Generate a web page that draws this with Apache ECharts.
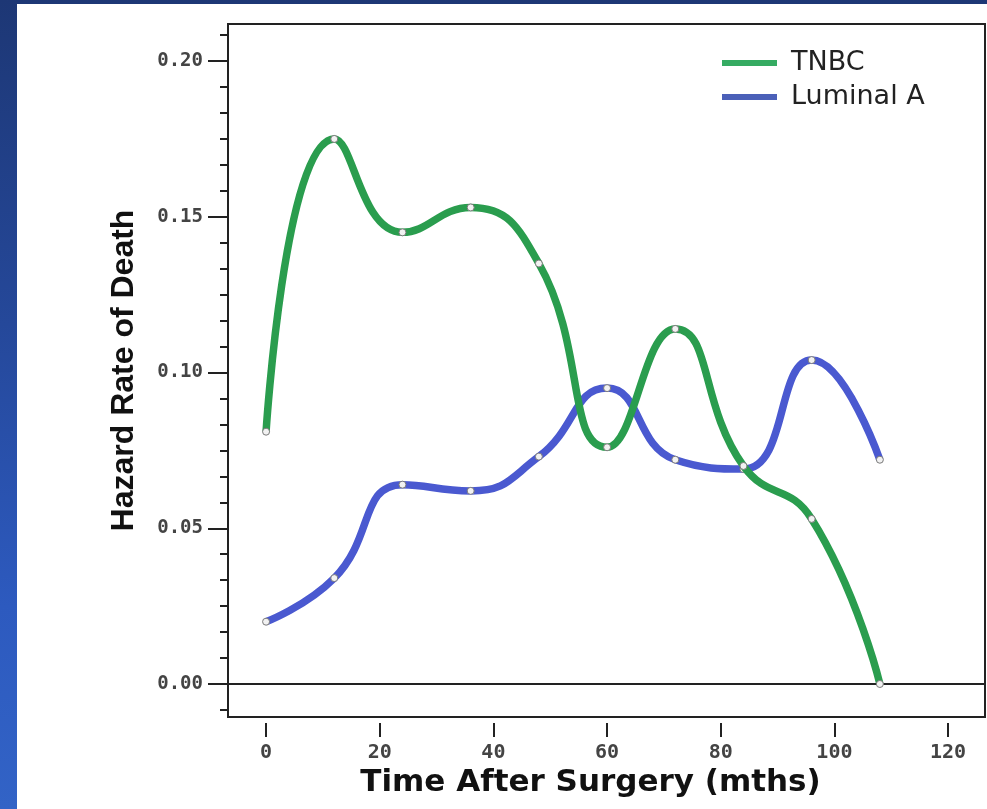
<!DOCTYPE html>
<html>
<head>
<meta charset="utf-8">
<script src="https://cdn.jsdelivr.net/npm/echarts@6/dist/echarts.min.js"></script>
<style>
  html, body { margin: 0; padding: 0; width: 987px; height: 809px; overflow: hidden;
    background: linear-gradient(to bottom, #1d3775 0%, #25489a 40%, #2d5abf 75%, #3263c6 100%); }
  #chart { position: absolute; left: 17px; top: 4px; width: 970px; height: 805px; background: #fff; }
</style>
</head>
<body>
<div id="chart"></div>
<script>
// ---- data ----
const months = [0, 12, 24, 36, 48, 60, 72, 84, 96, 108];
const tnbc = [0.081, 0.175, 0.145, 0.153, 0.135, 0.076, 0.114, 0.070, 0.053, 0.000];
const luminalA = [0.020, 0.034, 0.064, 0.062, 0.073, 0.095, 0.072, 0.069, 0.104, 0.072];
const seriesNames = ['TNBC', 'Luminal A'];
const xTickValues = [0, 20, 40, 60, 80, 100, 120];
const yTickValues = [0, 0.05, 0.10, 0.15, 0.20];
const xTitle = 'Time After Surgery (mths)';
const yTitle = 'Hazard Rate of Death';

// ---- axis config helpers ----
const yMin = -0.0106, yMax = 0.2119;
const minorStep = 0.05 / 6;
const yMinorTicks = [];
for (let k = -1; k <= 25; k++) { yMinorTicks.push(+(k * minorStep).toFixed(6)); }

const green = '#2a9d4e', blue = '#4a59d0';
function pairs(xs, ys) { return xs.map((x, i) => [x, ys[i]]); }

const chart = echarts.init(document.getElementById('chart'), null, { renderer: 'canvas' });
chart.setOption({
  backgroundColor: '#ffffff',
  animation: false,
  grid: { left: 211, top: 20, right: 2, bottom: 92, show: true, borderColor: '#222', borderWidth: 2, backgroundColor: 'transparent' },
  legend: {
    orient: 'vertical', left: 700, top: 39,
    icon: 'rect', itemWidth: 55, itemHeight: 6, itemGap: 4,
    textStyle: { fontFamily: 'DejaVu Sans', fontSize: 27, color: '#222', lineHeight: 30, padding: [0, 0, 0, 9] },
    data: [
      { name: seriesNames[0], itemStyle: { color: '#35ab62', borderWidth: 0 } },
      { name: seriesNames[1], itemStyle: { color: '#4b60b8', borderWidth: 0 } }
    ]
  },
  xAxis: {
    type: 'value', min: -6.7, max: 126.5, offset: 6, position: 'bottom',
    axisLine: { show: false, onZero: false },
    axisTick: { show: true, length: 14, inside: false, customValues: xTickValues, lineStyle: { color: '#222', width: 2 } },
    axisLabel: { customValues: xTickValues, margin: 20, fontFamily: 'DejaVu Sans Mono', fontWeight: 'bold', fontSize: 20, color: '#444' },
    splitLine: { show: false },
    name: xTitle, nameLocation: 'middle', nameGap: 43,
    nameTextStyle: { fontFamily: 'DejaVu Sans', fontWeight: 'bold', fontSize: 31, color: '#111', padding: [0, 32, 0, 0] }
  },
  yAxis: [
    {
      type: 'value', min: yMin, max: yMax, position: 'left',
      axisLine: { show: true, onZero: false, lineStyle: { color: '#222', width: 2 } },
      axisTick: { show: true, length: 20, inside: false, customValues: yTickValues, lineStyle: { color: '#222', width: 2 } },
      axisLabel: { customValues: yTickValues, margin: 25, formatter: v => v.toFixed(2),
        fontFamily: 'DejaVu Sans Mono', fontWeight: 'bold', fontSize: 19, color: '#444' },
      splitLine: { show: false },
      name: yTitle, nameLocation: 'middle', nameGap: 88, nameRotate: 90,
      nameTextStyle: { fontFamily: 'Liberation Sans', fontWeight: 'bold', fontSize: 32, color: '#111' }
    },
    {
      type: 'value', min: yMin, max: yMax, position: 'left', offset: 0,
      axisLine: { show: false, onZero: false },
      axisTick: { show: true, length: 8, inside: false, customValues: yMinorTicks, lineStyle: { color: '#222', width: 2 } },
      axisLabel: { show: false },
      splitLine: { show: false }
    }
  ],
  series: [
    {
      name: seriesNames[0], type: 'line', yAxisIndex: 0, smooth: 0.5,
      data: pairs(months, tnbc),
      symbol: 'circle', symbolSize: 7,
      lineStyle: { color: green, width: 7.5 },
      itemStyle: { color: '#f2f2f2', borderColor: '#7a7a7a', borderWidth: 1 },
      z: 3,
      markLine: {
        silent: true, symbol: ['none', 'none'], label: { show: false },
        lineStyle: { color: '#222', width: 2, type: 'solid' },
        data: [{ yAxis: 0 }], z: 1
      }
    },
    {
      name: seriesNames[1], type: 'line', yAxisIndex: 0, smooth: 0.5,
      data: pairs(months, luminalA),
      symbol: 'circle', symbolSize: 7,
      lineStyle: { color: blue, width: 7.5 },
      itemStyle: { color: '#f2f2f2', borderColor: '#7a7a7a', borderWidth: 1 },
      z: 2
    }
  ]
});
</script>
</body>
</html>
